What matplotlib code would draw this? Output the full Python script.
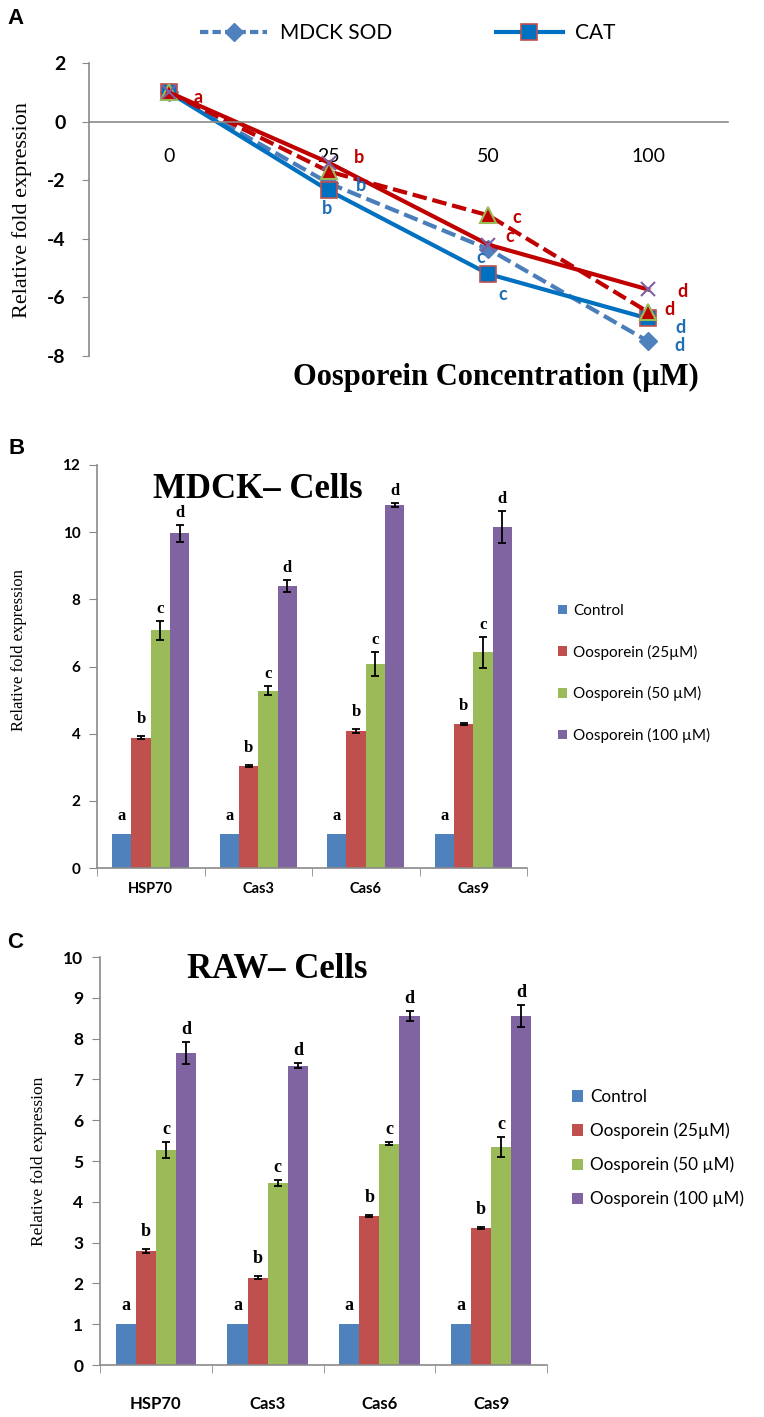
import matplotlib
matplotlib.use("Agg")
import matplotlib.pyplot as plt
from matplotlib.lines import Line2D
from matplotlib.patches import Patch
import numpy as np

# ---- panel A: antioxidant genes vs oosporein dose ----
conc_labels = ["0", "25", "50", "100"]
mdck_sod = [1.0, -2.1, -4.35, -7.5]
mdck_cat = [1.0, -2.35, -5.2, -6.72]
raw_sod = [1.0, -1.7, -3.2, -6.5]
raw_cat = [1.0, -1.4, -4.2, -5.73]
mdck_sod_sig = ["", "b", "c", "d"]
mdck_cat_sig = ["", "b", "c", "d"]
raw_sod_sig = ["", "", "c", "d"]
raw_cat_sig = ["a", "b", "c", "d"]

# ---- panels B / C: apoptosis genes ----
genes = ["HSP70", "Cas3", "Cas6", "Cas9"]
treatments = ["Control", "Oosporein (25µM)", "Oosporein (50 µM)", "Oosporein (100 µM)"]
sig_letters = ["a", "b", "c", "d"]

mdck_control = [1.0, 1.0, 1.0, 1.0]
mdck_25 = [3.88, 3.04, 4.08, 4.28]
mdck_50 = [7.08, 5.28, 6.08, 6.42]
mdck_100 = [9.97, 8.40, 10.82, 10.15]
mdck_25_err = [0.04, 0.03, 0.05, 0.03]
mdck_50_err = [0.28, 0.13, 0.35, 0.45]
mdck_100_err = [0.25, 0.18, 0.06, 0.47]

raw_control = [1.0, 1.0, 1.0, 1.0]
raw_25 = [2.79, 2.14, 3.65, 3.36]
raw_50 = [5.27, 4.46, 5.42, 5.35]
raw_100 = [7.65, 7.34, 8.56, 8.56]
raw_25_err = [0.05, 0.03, 0.03, 0.02]
raw_50_err = [0.20, 0.08, 0.04, 0.24]
raw_100_err = [0.27, 0.05, 0.12, 0.27]

SANS = "Lato"
SERIF = "Liberation Serif"
GRAY = "#8a8a8a"
BAR_COLORS = ["#4F81BD", "#C0504D", "#9BBB59", "#8064A2"]
W, H = 764, 1417

fig = plt.figure(figsize=(W / 100, H / 100), dpi=100)


def fx(px):
    return px / W


def fy(py):
    return 1 - py / H


def axes_px(left, top, right, bottom):
    return fig.add_axes([fx(left), fy(bottom), (right - left) / W, (bottom - top) / H])


# ================= panel A =================
axA = axes_px(89, 63, 728, 356)
# spine position first: moving it resets the tick labels
axA.spines["bottom"].set_position(("data", 0))
xs = np.arange(len(conc_labels))
red, blue_txt = "#C00000", "#1F6DB5"

series = [
    (mdck_sod, dict(color="#4A7EBB", ls=(0, (3.5, 1.4)), marker="D", ms=9,
                    mfc="#4F81BD", mec="#4F81BD"), mdck_sod_sig, blue_txt,
     [(0, 0), (32, -2), (-8, -8), (31, -4)]),
    (mdck_cat, dict(color="#0070C0", ls="-", marker="s", ms=11,
                    mfc="#0070C0", mec="#C0504D", mew=1.2), mdck_cat_sig, blue_txt,
     [(0, 0), (-2, -18), (14, -21), (32, -9)]),
    (raw_sod, dict(color=red, ls=(0, (3.5, 1.4)), marker="^", ms=11,
                   mfc=red, mec="#9BBB59", mew=1.5), raw_sod_sig, red,
     [(0, 0), (0, 0), (28, -2), (21, 3)]),
    (raw_cat, dict(color=red, ls="-", marker="x", ms=10,
                   mec="#7F60A0", mew=1.5), raw_cat_sig, red,
     [(29, -5), (30, 5), (21, 8), (34, -2)]),
]
for vals, style, sig, tcol, offs in series:
    axA.plot(xs, vals, lw=3, **style)
    for i, (v, s) in enumerate(zip(vals, sig)):
        if s:
            axA.annotate(s, (xs[i], v), xytext=offs[i], textcoords="offset pixels",
                         ha="center", va="center", color=tcol, fontsize=13,
                         fontweight="bold", family=SANS)

axA.set_xlim(-0.5, 3.5)
axA.set_ylim(-8, 2)
axA.set_yticks([-8, -6, -4, -2, 0, 2])
axA.set_yticklabels(["-8", "-6", "-4", "-2", "0", "2"], fontsize=14,
                    fontweight="bold", family=SANS)
axA.set_xticks(xs)
axA.set_xticklabels(conc_labels, fontsize=14, family=SANS)
axA.tick_params(axis="x", length=0, pad=19)
axA.tick_params(axis="y", direction="out", length=5, color=GRAY, pad=12)
for sp in ("top", "right"):
    axA.spines[sp].set_visible(False)
for sp in ("left", "bottom"):
    axA.spines[sp].set_color(GRAY)
    axA.spines[sp].set_linewidth(1.2)
axA.set_ylabel("Relative fold expression", family=SERIF, fontsize=16)
axA.yaxis.set_label_coords(-0.089, 0.5)
fig.text(fx(496), fy(377), "Oosporein Concentration (µM)", family=SERIF,
         fontsize=22, fontweight="bold", ha="center", va="center")

legA = [Line2D([], [], color="#4A7EBB", lw=3, ls=(0, (2, 1)), marker="D", ms=9,
               mfc="#4F81BD", mec="#4F81BD"),
        Line2D([], [], color="#0070C0", lw=3, marker="s", ms=11,
               mfc="#0070C0", mec="#C0504D", mew=1.2)]
fig.legend(legA, ["MDCK SOD", "CAT"], loc="center", bbox_to_anchor=(fx(408), fy(33)),
           ncol=2, frameon=False, prop={"family": SANS, "size": 15},
           handlelength=3.2, columnspacing=5.0, handletextpad=0.6)


# ================= panels B / C =================
def bar_panel(ax, vals, errs, title, title_xy, yticks, tick_fs, cat_fs, cat_pad,
              letter_fs, ylab_fs, ylab_x, ylab_y, leg_xy, leg_fs, leg_ls, leg_h):
    xs = np.arange(len(genes))
    width = 0.18
    gaps = [10, 9, 4, 4]
    for k in range(4):
        pos = xs + (k - 1.5) * width
        err = errs[k]
        ax.bar(pos, vals[k], width, color=BAR_COLORS[k], zorder=2,
               yerr=err, error_kw=dict(ecolor="black", elinewidth=1.3,
                                       capsize=3, capthick=1.3, zorder=3))
        for i, p in enumerate(pos):
            top = vals[k][i] + (err[i] if err is not None else 0)
            ax.annotate(sig_letters[k], (p, top), xytext=(0, gaps[k]),
                        textcoords="offset pixels", ha="center", va="bottom",
                        family=SERIF, fontweight="bold", fontsize=letter_fs)
    ax.set_xlim(-0.5, 3.5)
    ax.set_ylim(yticks[0], yticks[-1])
    ax.set_yticks(yticks)
    ax.set_yticklabels([str(t) for t in yticks], fontsize=tick_fs,
                       fontweight="bold", family=SANS)
    ax.set_xticks(xs)
    ax.set_xticklabels(genes, family=SANS, fontweight="bold", fontsize=cat_fs)
    ax.set_xticks(np.arange(-0.5, 4, 1), minor=True)
    ax.tick_params(axis="x", which="major", length=0, pad=cat_pad)
    ax.tick_params(axis="x", which="minor", length=6, direction="out", color=GRAY)
    ax.tick_params(axis="y", direction="out", length=6, color=GRAY, pad=6)
    for sp in ("top", "right"):
        ax.spines[sp].set_visible(False)
    for sp in ("left", "bottom"):
        ax.spines[sp].set_color(GRAY)
        ax.spines[sp].set_linewidth(1.2)
    ax.set_ylabel("Relative fold expression", family=SERIF, fontsize=ylab_fs)
    ax.yaxis.set_label_coords(ylab_x, ylab_y)
    fig.text(fx(title_xy[0]), fy(title_xy[1]), title, family=SERIF, fontsize=25,
             fontweight="bold", ha="center", va="center")
    handles = [Patch(facecolor=c) for c in BAR_COLORS]
    ax.legend(handles, treatments, loc="upper left",
              bbox_to_anchor=(fx(leg_xy[0]), fy(leg_xy[1])),
              bbox_transform=fig.transFigure, frameon=False,
              prop={"family": SANS, "size": leg_fs}, handlelength=leg_h,
              handleheight=leg_h, handletextpad=0.4, labelspacing=leg_ls,
              borderpad=0, borderaxespad=0)


axB = axes_px(97, 465, 527, 868)
bar_panel(axB, [mdck_control, mdck_25, mdck_50, mdck_100],
          [None, mdck_25_err, mdck_50_err, mdck_100_err],
          "MDCK– Cells", (258, 490), list(range(0, 13, 2)), 11, 10.5, 10, 12, 12,
          -0.163, 0.54, (558, 604), 11, 1.74, 0.6)

axC = axes_px(100, 957, 547, 1365)
bar_panel(axC, [raw_control, raw_25, raw_50, raw_100],
          [None, raw_25_err, raw_50_err, raw_100_err],
          "RAW– Cells", (277, 969), list(range(0, 11)), 12.5, 12, 22, 13, 12.5,
          -0.119, 0.5, (572, 1089), 12.3, 1.03, 0.65)

for letter, (px, py) in zip("ABC", [(15, 18), (17, 448), (15, 943)]):
    fig.text(fx(px), fy(py), letter, family="Liberation Sans", fontweight="bold",
             fontsize=16, ha="center", va="center")

fig.savefig("out.png", dpi=100)
